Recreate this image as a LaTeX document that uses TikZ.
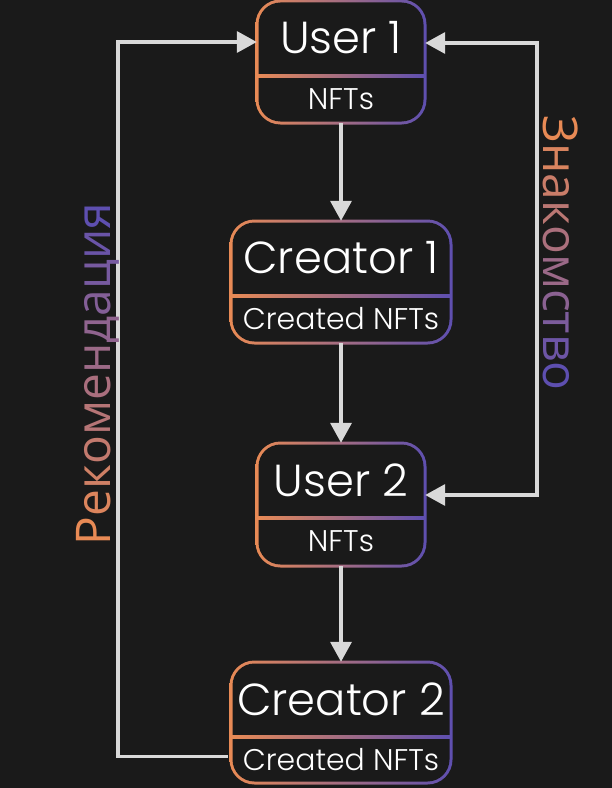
\documentclass[tikz,border=0pt]{standalone}
\usepackage{fontspec}
\setmainfont{Poppins Light}
\newfontfamily\cyrfont{Open Sans}
\usetikzlibrary{arrows.meta}
\definecolor{bgc}{HTML}{1A1A1A}
\definecolor{cOr}{HTML}{E88A55}
\definecolor{cPu}{HTML}{5E4FB0}
\definecolor{cLn}{HTML}{D9D9D9}

\begin{document}
\begin{tikzpicture}[x=1bp,y=-1bp,>={Triangle[length=20bp,width=21bp]}]
\tikzstyle{part}=[inner sep=0pt, text=white]
\tikzstyle{title}=[part, font=\fontsize{45}{45}\selectfont]
\tikzstyle{sub}=[part, font=\fontsize{30}{30}\selectfont]
\tikzstyle{connect}=[->, line width=3.5bp, draw=cLn]
\tikzstyle{side}=[inner sep=0pt, anchor=base, font=\cyrfont\fontsize{48}{48}\selectfont]
\fill[bgc] (0,0) rectangle (612,788);
\useasboundingbox (0,0) rectangle (612,788);
% cards: gradient frame, divider, head and body nodes
\foreach \n/\x/\y/\w/\h/\ttl/\sb in {u1/257/1/168/122/User 1/NFTs, c1/231/221/220/122/Creator 1/Created NFTs, u2/257/443/168/123/User 2/NFTs, c2/231/662/220/121/Creator 2/Created NFTs}{
  \shade[left color=cOr, right color=cPu, rounded corners=25bp] (\x-1.5,\y-1.5) rectangle (\x+\w+1.5,\y+\h+1.5);
  \fill[bgc, rounded corners=22bp] (\x+1.5,\y+1.5) rectangle (\x+\w-1.5,\y+\h-1.5);
  \shade[left color=cOr, right color=cPu] (\x,\y+73) rectangle (\x+\w,\y+76);
  \node[title, minimum width=\w bp, minimum height=74bp] (\n-head) at (\x+\w/2,\y+37) {\ttl};
  \node[sub, minimum width=\w bp, minimum height=\h bp-74bp] (\n-body) at (\x+\w/2,\y+37+\h/2) {\sb};
}
\draw[connect] (u1-body) -- (c1-head);
\draw[connect] (c1-body) -- (u2-head);
\draw[connect] (u2-body) -- (c2-head);
\draw[connect] ([xshift=-3bp,yshift=3bp]c2-body.west) -- ++(-110,0) |- ([yshift=-4bp]u1-head.west);
\draw[connect, <->] ([yshift=-5bp]u1-head.east) -- ++(112,0) |- ([yshift=-15bp]u2-head.east);
% side labels
\node[side, rotate=90] (reco) at (110,374) {\textcolor{cPu!0!cOr}{Р}\textcolor{cPu!9!cOr}{е}\textcolor{cPu!18!cOr}{к}\textcolor{cPu!27!cOr}{о}\textcolor{cPu!36!cOr}{м}\textcolor{cPu!45!cOr}{е}\textcolor{cPu!55!cOr}{н}\textcolor{cPu!64!cOr}{д}\textcolor{cPu!73!cOr}{а}\textcolor{cPu!82!cOr}{ц}\textcolor{cPu!91!cOr}{и}\textcolor{cPu!100!cOr}{я}};
\node[side, rotate=-90] (meet) at (543,253) {\textcolor{cPu!0!cOr}{З}\textcolor{cPu!11!cOr}{н}\textcolor{cPu!22!cOr}{а}\textcolor{cPu!33!cOr}{к}\textcolor{cPu!44!cOr}{о}\textcolor{cPu!56!cOr}{м}\textcolor{cPu!67!cOr}{с}\textcolor{cPu!78!cOr}{т}\textcolor{cPu!89!cOr}{в}\textcolor{cPu!100!cOr}{о}};
\end{tikzpicture}
\end{document}
